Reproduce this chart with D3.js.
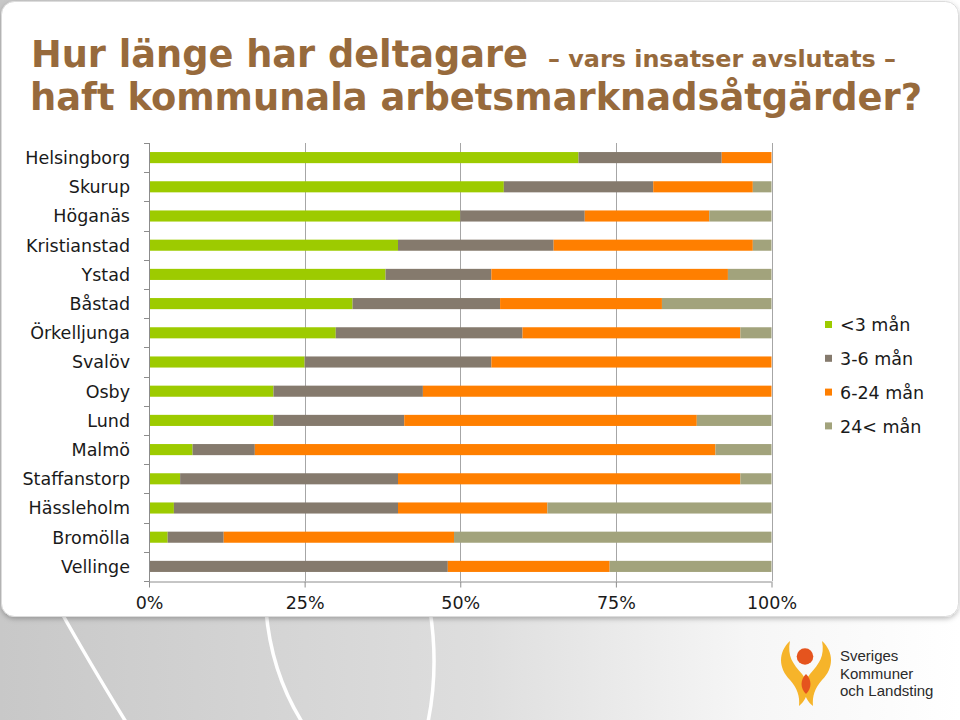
<!DOCTYPE html>
<html>
<head>
<meta charset="utf-8">
<script src="https://cdn.jsdelivr.net/npm/d3@7"></script>
<style>
html,body{margin:0;padding:0;background:#fff;}
svg{display:block;}
</style>
</head>
<body>
<svg id="chart" width="960" height="720"></svg>
<script>
const categories = ["Helsingborg","Skurup","Höganäs","Kristianstad","Ystad","Båstad","Örkelljunga","Svalöv","Osby","Lund","Malmö","Staffanstorp","Hässleholm","Bromölla","Vellinge"];
const seriesNames = ["<3 mån","3-6 mån","6-24 mån","24< mån"];
const under3 = [69, 57, 50, 40, 38, 32.7, 30, 25, 20, 20, 7, 5, 4, 3, 0];
const m3to6 = [23, 24, 20, 25, 17, 23.7, 30, 30, 24, 21, 10, 35, 36, 9, 48];
const m6to24 = [8, 16, 20, 32, 38, 26, 35, 45, 56, 47, 74, 55, 24, 37, 26];
const over24 = [0, 3, 10, 3, 7, 17.6, 5, 0, 0, 12, 9, 5, 36, 51, 26];
const tickValues = [0, 25, 50, 75, 100];
const colors = ["#9dcb00", "#857a6d", "#ff7f00", "#a2a37c"];

const svg = d3.select("#chart");

// background (lower band) + decorative arcs
const defs = svg.append("defs");
const grad = defs.append("linearGradient").attr("id","bg").attr("x1","0").attr("x2","1").attr("y1","0").attr("y2","0");
grad.append("stop").attr("offset","0").attr("stop-color","#c8c8c8");
grad.append("stop").attr("offset","0.5").attr("stop-color","#dedede");
grad.append("stop").attr("offset","0.78").attr("stop-color","#f6f6f6");
grad.append("stop").attr("offset","1").attr("stop-color","#ffffff");
const sh = defs.append("filter").attr("id","shadow").attr("x","-5%").attr("y","-5%").attr("width","110%").attr("height","115%");
sh.append("feDropShadow").attr("dx",0).attr("dy",2).attr("stdDeviation",2.5).attr("flood-color","#000").attr("flood-opacity",0.25);

svg.append("rect").attr("x",0).attr("y",0).attr("width",960).attr("height",720).attr("fill","url(#bg)");
const arcs = ["M60,610 Q88,660 126,722","M266,610 Q271,672 302,722","M430,610 Q439,668 428,722"];
svg.selectAll("path.deco").data(arcs).join("path").attr("class","deco")
  .attr("d", d => d).attr("fill","none").attr("stroke","#ffffff").attr("stroke-width",3.5);

// white panel
svg.append("rect").attr("x",1.5).attr("y",1.5).attr("width",957).attr("height",615).attr("rx",13)
  .attr("fill","#ffffff").attr("stroke","#dcdcdc").attr("stroke-width",1).attr("filter","url(#shadow)");

// title
const titleColor = "#976a3c";
svg.append("text").attr("x",31).attr("y",67)
  .attr("font-family","DejaVu Sans, Verdana, sans-serif").attr("font-weight","bold").attr("font-size",37)
  .attr("fill",titleColor).attr("textLength",497).attr("lengthAdjust","spacingAndGlyphs")
  .text("Hur länge har deltagare");
svg.append("text").attr("x",548).attr("y",67)
  .attr("font-family","DejaVu Sans, Verdana, sans-serif").attr("font-weight","bold").attr("font-size",23)
  .attr("fill",titleColor).attr("textLength",348).attr("lengthAdjust","spacingAndGlyphs")
  .text("– vars insatser avslutats –");
svg.append("text").attr("x",30).attr("y",110)
  .attr("font-family","DejaVu Sans, Verdana, sans-serif").attr("font-weight","bold").attr("font-size",37)
  .attr("fill",titleColor).attr("textLength",892).attr("lengthAdjust","spacingAndGlyphs")
  .text("haft kommunala arbetsmarknadsåtgärder?");

// scales
const x = d3.scaleLinear().domain([0,100]).range([149, 771.5]);
const y = d3.scaleBand().domain(categories).range([143, 581]).paddingInner(0.62).paddingOuter(0.31);

const rows = categories.map((c,i) => ({cat:c, "<3 mån":under3[i], "3-6 mån":m3to6[i], "6-24 mån":m6to24[i], "24< mån":over24[i]}));
const stacked = d3.stack().keys(seriesNames)(rows);

// gridlines
const g = svg.append("g");
g.selectAll("line.grid").data(tickValues.slice(1)).join("line").attr("class","grid")
  .attr("x1", d => Math.round(x(d))+0.5).attr("x2", d => Math.round(x(d))+0.5)
  .attr("y1", 143).attr("y2", 581).attr("stroke","#a6a6a6").attr("stroke-width",1);

// bars
g.selectAll("g.series").data(stacked).join("g").attr("class","series")
  .attr("fill", (d,i) => colors[i])
  .selectAll("rect").data(d => d).join("rect")
  .attr("x", d => x(d[0])).attr("width", d => x(d[1]) - x(d[0]))
  .attr("y", d => y(d.data.cat)).attr("height", y.bandwidth());

// y axis
const boundaries = d3.range(categories.length + 1).map(i => 143 + i * y.step());
g.append("line").attr("x1",149.5).attr("x2",149.5).attr("y1",143).attr("y2",581).attr("stroke","#8c8c8c");
g.selectAll("line.ytick").data(boundaries).join("line").attr("class","ytick")
  .attr("x1",144).attr("x2",149.5).attr("y1", d => Math.round(d)+0.5).attr("y2", d => Math.round(d)+0.5)
  .attr("stroke","#8c8c8c");
g.selectAll("text.ylab").data(categories).join("text").attr("class","ylab")
  .attr("x",130).attr("y", d => y(d) + y.bandwidth()/2).attr("dy","0.36em")
  .attr("text-anchor","end").attr("font-family","DejaVu Sans, Verdana, sans-serif").attr("font-size",17.5)
  .attr("fill","#1a1a1a").text(d => d);

// x axis
const xAxis = d3.axisBottom(x).tickValues(tickValues).tickFormat(d => d + "%").tickSize(6).tickPadding(9);
const xa = svg.append("g").attr("transform","translate(0,581.5)").call(xAxis);
xa.select(".domain").attr("stroke","#8c8c8c").attr("d", `M${x(0)},0.5H${x(100)}`);
xa.selectAll(".tick line").attr("stroke","#8c8c8c");
xa.selectAll(".tick text").attr("font-family","DejaVu Sans, Verdana, sans-serif").attr("font-size",17.5).attr("fill","#1a1a1a");

// legend
const leg = svg.append("g");
const legItems = leg.selectAll("g").data(seriesNames).join("g")
  .attr("transform", (d,i) => `translate(825, ${325 + i*33.8})`);
legItems.append("rect").attr("x",0).attr("y",-4).attr("width",7).attr("height",7).attr("fill", (d,i) => colors[i]);
legItems.append("text").attr("x",15).attr("y",0).attr("dy","0.36em")
  .attr("font-family","DejaVu Sans, Verdana, sans-serif").attr("font-size",17.5).attr("fill","#1a1a1a").text(d => d);

// logo
const logo = svg.append("g");
logo.append("path").attr("d","M790,641 C778,652 778,668 790,680 C797,688 800,696 799,706 C810,697 810,684 802,674 C793,664 787,656 790,641 Z").attr("fill","#f6b42a");
logo.append("path").attr("d","M822,641 C834,652 834,668 822,680 C815,688 812,696 813,706 C802,697 802,684 810,674 C819,664 825,656 822,641 Z").attr("fill","#f6b42a");
logo.append("path").attr("d","M806,674 C812,680 812,688 806,694 C800,688 800,680 806,674 Z").attr("fill","#e5541e");
logo.append("circle").attr("cx",805).attr("cy",656.5).attr("r",8.3).attr("fill","#e5541e");
const logoText = ["Sveriges","Kommuner","och Landsting"];
logo.selectAll("text").data(logoText).join("text")
  .attr("x",840).attr("y",(d,i) => 661 + i*17.5)
  .attr("font-family","Liberation Sans, Arial, sans-serif").attr("font-size",15).attr("fill","#2a2a2a").text(d => d);
</script>
</body>
</html>
